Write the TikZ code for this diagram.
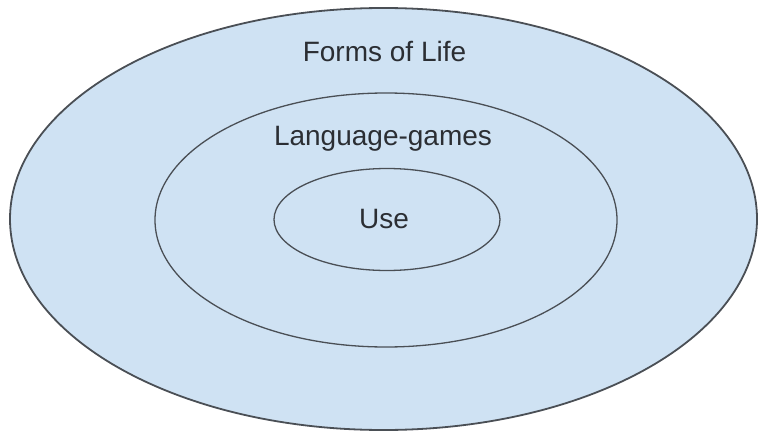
\documentclass[tikz,border=0pt]{standalone}
\usepackage{fontspec}
\setmainfont{Liberation Sans}
\usetikzlibrary{shapes.geometric}
\definecolor{fillblue}{HTML}{CFE2F3}
\definecolor{edgegray}{HTML}{4A4F55}
\definecolor{textgray}{HTML}{2B2E33}
\begin{document}
\begin{tikzpicture}[x=1pt,y=-1pt,
  ring/.style={ellipse, draw=edgegray, fill=fillblue, inner sep=0pt, outer sep=0pt},
  lbl/.style={anchor=base, inner sep=0pt, text=textgray, font=\fontsize{28}{34}\selectfont}]
\useasboundingbox (0,0) rectangle (759,433);
\fill[white] (0,0) rectangle (759,433);
\node[ring, line width=1.8pt, minimum width=747pt, minimum height=422pt] (outer) at (383.5,219) {};
\node[ring, line width=1.3pt, minimum width=462pt, minimum height=254pt] (middle) at (386,220) {};
\node[ring, line width=1.3pt, minimum width=226pt, minimum height=102pt] (inner) at (387,219.5) {};
\node[lbl] (forms) at (384.5,62) {Forms of Life};
\node[lbl] (games) at (383,145) {Language-games};
\node[lbl] (use) at (384,228) {Use};
\end{tikzpicture}
\end{document}
